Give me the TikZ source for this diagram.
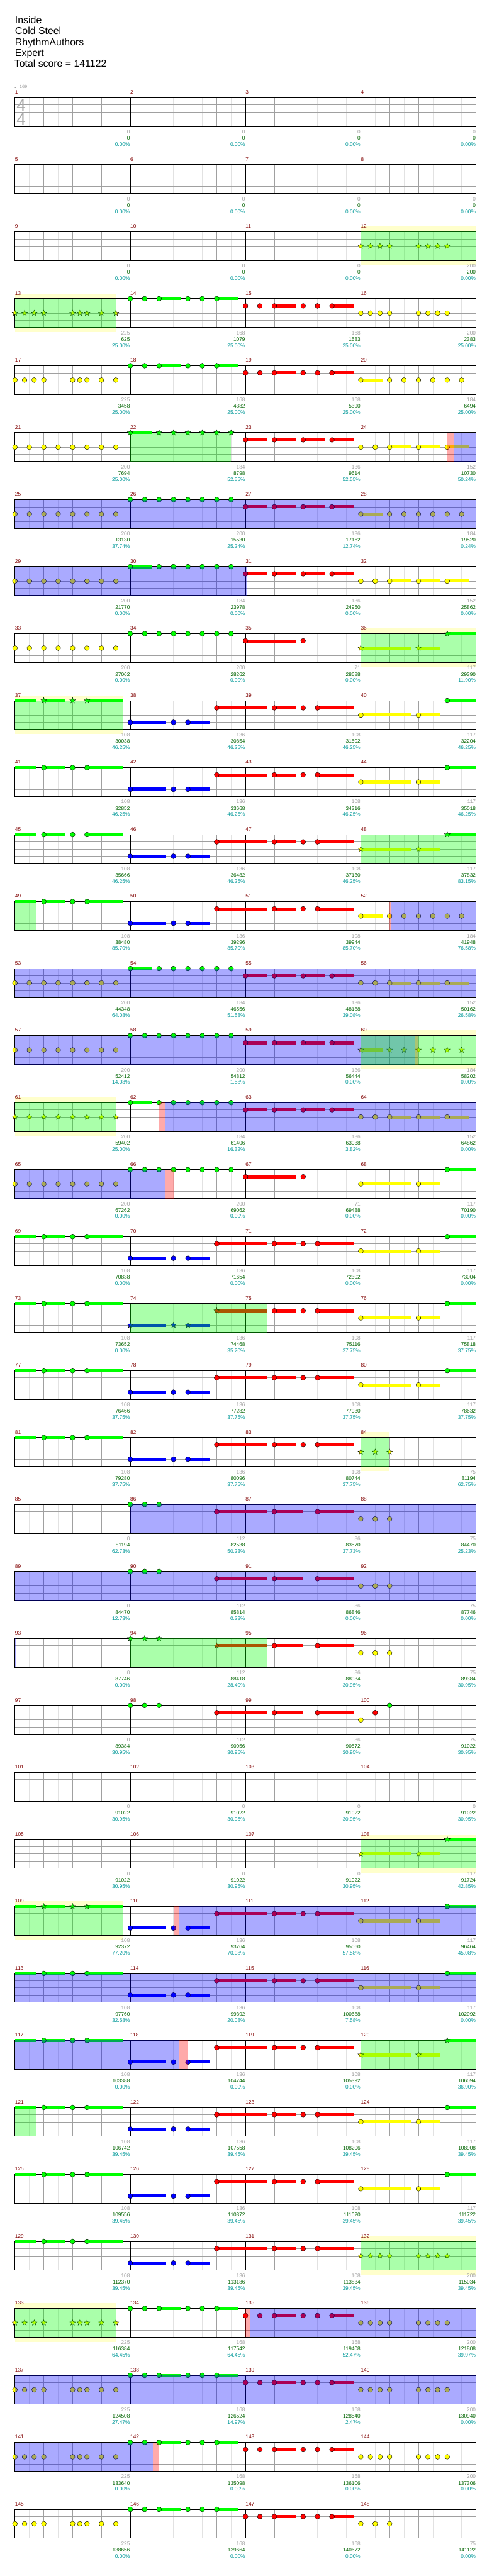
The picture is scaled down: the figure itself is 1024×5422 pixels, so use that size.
\documentclass[tikz,border=0pt]{standalone}
\usepackage{fontspec}
\setmainfont{Liberation Sans}
\newfontfamily\djv{DejaVu Sans}
\usetikzlibrary{shapes.geometric}
\definecolor{gG}{HTML}{00FF00}
\definecolor{gR}{HTML}{FF0000}
\definecolor{gY}{HTML}{FFFF00}
\definecolor{gB}{HTML}{0000FF}
\definecolor{bandc}{HTML}{FFFFCC}
\definecolor{gridd}{HTML}{A0A0A0}
\definecolor{gridl}{HTML}{E2E2E2}
\definecolor{mnumc}{HTML}{800000}
\definecolor{ngrey}{HTML}{A0A0A0}
\definecolor{ngreen}{HTML}{006400}
\definecolor{nteal}{HTML}{009999}
\definecolor{tsig}{HTML}{AAAAAA}
\newcommand\bx[1]{31.5+60.625*(#1)}
\newcommand\nt[3]{\filldraw[fill=#3,draw=black,line width=0.4pt] ({\bx{#1}},{15.175*(#2)}) circle[radius=5.2];}
\newcommand\st[3]{\node[starnote,fill=#3] at ({\bx{#1}},{15.175*(#2)}) {};}
\newcommand\sus[4]{\fill[#4] ({\bx{#1}},{15.175*(#3)-3.3}) rectangle ({\bx{#2}},{15.175*(#3)+3.3});}
\newcommand\ovB[2]{\fill[gB,fill opacity=0.3333] ({\bx{#1}},0) rectangle ({\bx{#2}},60.7);}
\newcommand\ovG[2]{\fill[gG,fill opacity=0.3333] ({\bx{#1}},0) rectangle ({\bx{#2}},60.7);}
\newcommand\ovR[2]{\fill[gR,fill opacity=0.3333] ({\bx{#1}},0) rectangle ({\bx{#2}},60.7);}
\newcommand\band[2]{\fill[bandc] ({\bx{#1}},-11) rectangle ({\bx{#2}},70.7);}
\newcommand\staff{%
  \fill[white] (31.5,0) rectangle (1001.5,60.7);
  \foreach \k in {1,3,...,31}{\draw[gridl,line width=0.6pt] ({31.5+30.3125*\k},0) -- ({31.5+30.3125*\k},60.7);}
  \foreach \k in {2,4,6,10,12,14,18,20,22,26,28,30}{\draw[gridd,line width=0.6pt] ({31.5+30.3125*\k},0) -- ({31.5+30.3125*\k},60.7);}
  \foreach \k in {1,2,3}{\draw[gridd,line width=0.75pt] (31.5,{15.175*\k}) -- (1001.5,{15.175*\k});}
  \foreach \k in {1,2,3}{\draw[black,line width=0.6pt] ({31.5+242.5*\k},0) -- ({31.5+242.5*\k},60.7);}
  \draw[black,line width=1.1pt] (31.5,0) rectangle (1001.5,60.7);
  \foreach \k in {0,1,2,3}{\pgfmathtruncatemacro\mm{4*(\rr-1)+\k+1}\node[mnumst] at ({31.5+242.5*\k},-7.5) {\mm};}
}
\newcommand\scr[4]{%
  \node[sgrey] at ({31.5+242.5*(#1+1)-0.5},76) {#2};
  \node[sgreen] at ({31.5+242.5*(#1+1)-0.5},89.3) {#3};
  \node[steal] at ({31.5+242.5*(#1+1)-0.5},102.3) {#4\%};}
\newcommand\RowBegin[1]{\begin{scope}[shift={(0,{205.7+141*(#1-1)})}]\def\rr{#1}}
\newcommand\RowEnd{\end{scope}}
% B-section patterns
\newcommand\qA[1]{\foreach \bb in {0,0.3333,0.6667,1,2,2.25,2.5,3,3.5}{#1{\bb}{2}{gY}}}
\newcommand\qB{\sus{5}{5.75}{0}{gG}\sus{7}{7.75}{0}{gG}\foreach \bb in {4,4.5,5,6,6.5,7}{\nt{\bb}{0}{gG}}}
\newcommand\qC{\sus{9}{9.75}{1}{gR}\sus{11}{11.75}{1}{gR}\foreach \bb in {8,8.5,9,10,10.5,11}{\nt{\bb}{1}{gR}}}
\newcommand\qD[1]{\foreach \bb in {12,12.3333,12.6667,13,14,14.3333,14.6667,15}{#1{\bb}{2}{gY}}}
% C-section patterns
\newcommand\cA[1]{\foreach \bb in {0,0.5,1,1.5,2,2.5,3,3.5}{#1{\bb}{2}{gY}}}
\newcommand\cBa{\foreach \bb in {4,4.5,5,5.5,6,6.5,7,7.5}{\nt{\bb}{0}{gG}}}
\newcommand\cBb[1]{\sus{4}{4.75}{0}{gG}\foreach \bb in {4,5,5.5,6,6.5,7,7.5}{#1{\bb}{0}{gG}}}
\newcommand\cC{\foreach \bb in {8,9,10,11}{\sus{\bb}{\bb+0.75}{1}{gR}\nt{\bb}{1}{gR}}}
\newcommand\cDa{\sus{13}{13.75}{2}{gY}\sus{14}{14.75}{2}{gY}\sus{15}{15.75}{2}{gY}\foreach \bb in {12,12.5,13,14,15}{\nt{\bb}{2}{gY}}}
\newcommand\cDb[1]{\sus{12}{12.75}{2}{gY}\foreach \bb in {12,13,13.5,14,14.5,15,15.5}{#1{\bb}{2}{gY}}}
\newcommand\eC{\sus{8}{9.75}{1}{gR}\nt{8}{1}{gR}\nt{10}{1}{gR}}
% A-section patterns
\newcommand\pA[1]{\sus{0}{0.75}{0}{gG}\sus{1}{1.75}{0}{gG}\sus{2.5}{3.75}{0}{gG}\foreach \bb in {1,2,2.5}{#1{\bb}{0}{gG}}}
\newcommand\pB[1]{\sus{4}{5.25}{3}{gB}\sus{6}{6.75}{3}{gB}\foreach \bb in {4,5.5,6}{#1{\bb}{3}{gB}}}
\newcommand\pC[1]{\sus{7}{8.75}{1}{gR}#1{7}{1}{gR}}
\newcommand\pD{\sus{9}{9.75}{1}{gR}\sus{10.5}{11.75}{1}{gR}\foreach \bb in {9,10,10.5}{\nt{\bb}{1}{gR}}}
\newcommand\pE[1]{\sus{12}{13.75}{2}{gY}\sus{14}{14.75}{2}{gY}\sus{15}{16}{0}{gG}#1{12}{2}{gY}#1{14}{2}{gY}#1{15}{0}{gG}}
\newcommand\rowA{\pA{\nt}\pB{\nt}\pC{\nt}\pD\pE{\nt}}
% D-section patterns
\newcommand\dA[1]{\foreach \bb in {4,4.5,5}{#1{\bb}{0}{gG}}}
\newcommand\dC{\sus{9}{10}{1}{gR}\sus{10.5}{11.75}{1}{gR}\nt{9}{1}{gR}\nt{10.5}{1}{gR}}
\newcommand\dD{\foreach \bb in {12,12.5,13}{\nt{\bb}{2}{gY}}}
\begin{document}
\begin{tikzpicture}[x=0.75pt,y=-0.75pt,
  starnote/.style={star,star points=5,star point ratio=2.4,minimum size=9.5pt,inner sep=0pt,draw=black,line width=0.35pt},
  mnumst/.style={anchor=base west,inner sep=0pt,text=mnumc,font=\fontsize{8.25}{9}\selectfont},
  sgrey/.style={anchor=base east,inner sep=0pt,text=ngrey,font=\fontsize{8.25}{9}\selectfont},
  sgreen/.style={anchor=base east,inner sep=0pt,text=ngreen,font=\fontsize{8.25}{9}\selectfont},
  steal/.style={anchor=base east,inner sep=0pt,text=nteal,font=\fontsize{8.25}{9}\selectfont},
  titlest/.style={anchor=base west,inner sep=0pt,font=\fontsize{15.75}{16}\selectfont}]
\useasboundingbox (0,0) rectangle (1024,5422);
\fill[white] (0,0) rectangle (1024,5422);
\node[titlest] (t1) at (31.5,49.5) {Inside};
\node[titlest] (t2) at (31.5,72.5) {Cold Steel};
\node[titlest] (t3) at (31.5,95.5) {RhythmAuthors};
\node[titlest] (t4) at (31.5,118.5) {Expert};
\node[titlest] (t5) at (30,141.5) {Total score = 141122};
\node[anchor=base west,inner sep=0pt,text=ngrey,font=\fontsize{7.5}{8}\selectfont] (tempo) at (30,185.5) {{\djv ♩}=169};
% row 1
\RowBegin{1}\staff
\node[anchor=base west,inner sep=0pt,text=tsig,font=\fontsize{26}{26}\selectfont] (ts1) at (34.5,27.3) {4};
\node[anchor=base west,inner sep=0pt,text=tsig,font=\fontsize{26}{26}\selectfont] (ts2) at (34.5,57.3) {4};
\scr{0}{0}{0}{0.00}\scr{1}{0}{0}{0.00}\scr{2}{0}{0}{0.00}\scr{3}{0}{0}{0.00}\RowEnd
% row 2
\RowBegin{2}\staff
\scr{0}{0}{0}{0.00}\scr{1}{0}{0}{0.00}\scr{2}{0}{0}{0.00}\scr{3}{0}{0}{0.00}\RowEnd
% row 3
\RowBegin{3}\band{12}{16}\staff\qD{\st}\ovG{12}{16}
\scr{0}{0}{0}{0.00}\scr{1}{0}{0}{0.00}\scr{2}{0}{0}{0.00}\scr{3}{200}{200}{0.00}\RowEnd
% row 4
\RowBegin{4}\band{0}{3.5}\staff\qA{\st}\qB\qC\qD{\nt}\ovG{0}{3.5}
\scr{0}{225}{625}{25.00}\scr{1}{168}{1079}{25.00}\scr{2}{168}{1583}{25.00}\scr{3}{200}{2383}{25.00}\RowEnd
% row 5
\RowBegin{5}\staff\qA{\nt}\qB\qC\cDb{\nt}
\scr{0}{225}{3458}{25.00}\scr{1}{168}{4382}{25.00}\scr{2}{168}{5390}{25.00}\scr{3}{184}{6494}{25.00}\RowEnd
% row 6
\RowBegin{6}\staff\cA{\nt}\sus{4}{4.75}{0}{gG}\foreach \bb in {4,5,5.5,6,6.5,7,7.5}{\st{\bb}{0}{gG}}\cC\cDa\ovG{4}{7.5}\ovR{15}{15.25}\ovB{15.25}{16}
\scr{0}{200}{7694}{25.00}\scr{1}{184}{8798}{52.55}\scr{2}{136}{9614}{52.55}\scr{3}{152}{10730}{50.24}\RowEnd
% row 7
\RowBegin{7}\staff\cA{\nt}\cBa\cC\cDb{\nt}\ovB{0}{16}
\scr{0}{200}{13130}{37.74}\scr{1}{200}{15530}{25.24}\scr{2}{136}{17162}{12.74}\scr{3}{184}{19520}{0.24}\RowEnd
% row 8
\RowBegin{8}\staff\cA{\nt}\cBb{\nt}\cC\cDa\ovB{0}{8.07}
\scr{0}{200}{21770}{0.00}\scr{1}{184}{23978}{0.00}\scr{2}{136}{24950}{0.00}\scr{3}{152}{25862}{0.00}\RowEnd
% row 9
\RowBegin{9}\band{12}{16}\staff\cA{\nt}\cBa\eC\pE{\st}\ovG{12}{16}
\scr{0}{200}{27062}{0.00}\scr{1}{200}{28262}{0.00}\scr{2}{71}{28688}{0.00}\scr{3}{117}{29390}{11.90}\RowEnd
% row 10
\RowBegin{10}\band{0}{3.75}\staff\pA{\st}\pB{\nt}\pC{\nt}\pD\pE{\nt}\ovG{0}{3.75}
\scr{0}{108}{30038}{46.25}\scr{1}{136}{30854}{46.25}\scr{2}{108}{31502}{46.25}\scr{3}{117}{32204}{46.25}\RowEnd
% row 11
\RowBegin{11}\staff\rowA
\scr{0}{108}{32852}{46.25}\scr{1}{136}{33668}{46.25}\scr{2}{108}{34316}{46.25}\scr{3}{117}{35018}{46.25}\RowEnd
% row 12
\RowBegin{12}\staff\pA{\nt}\pB{\nt}\pC{\nt}\pD\pE{\st}\ovG{12}{16}
\scr{0}{108}{35666}{46.25}\scr{1}{136}{36482}{46.25}\scr{2}{108}{37130}{46.25}\scr{3}{117}{37832}{83.15}\RowEnd
% row 13
\RowBegin{13}\staff\pA{\nt}\pB{\nt}\pC{\nt}\pD\cDb{\nt}\ovG{0}{0.73}\ovR{13}{13.05}\ovB{13.05}{16}
\scr{0}{108}{38480}{85.70}\scr{1}{136}{39296}{85.70}\scr{2}{108}{39944}{85.70}\scr{3}{184}{41948}{76.58}\RowEnd
% row 14
\RowBegin{14}\staff\cA{\nt}\cBb{\nt}\cC\cDa\ovB{0}{16}
\scr{0}{200}{44348}{64.08}\scr{1}{184}{46556}{51.58}\scr{2}{136}{48188}{39.08}\scr{3}{152}{50162}{26.58}\RowEnd
% row 15
\RowBegin{15}\band{12}{16}\staff\cA{\nt}\cBa\cC\cDb{\st}\ovB{0}{13.88}\ovR{13.88}{14}\ovG{12}{16}
\scr{0}{200}{52412}{14.08}\scr{1}{200}{54812}{1.58}\scr{2}{136}{56444}{0.00}\scr{3}{184}{58202}{0.00}\RowEnd
% row 16
\RowBegin{16}\band{0}{3.5}\staff\cA{\st}\cBb{\nt}\cC\cDa\ovG{0}{3.5}\ovR{5}{5.21}\ovB{5.21}{16}
\scr{0}{200}{59402}{25.00}\scr{1}{184}{61406}{16.32}\scr{2}{136}{63038}{3.82}\scr{3}{152}{64862}{0.00}\RowEnd
% row 17
\RowBegin{17}\staff\cA{\nt}\cBa\eC\pE{\nt}\ovB{0}{5.21}\ovR{5.21}{5.5}
\scr{0}{200}{67262}{0.00}\scr{1}{200}{69062}{0.00}\scr{2}{71}{69488}{0.00}\scr{3}{117}{70190}{0.00}\RowEnd
% row 18
\RowBegin{18}\staff\rowA
\scr{0}{108}{70838}{0.00}\scr{1}{136}{71654}{0.00}\scr{2}{108}{72302}{0.00}\scr{3}{117}{73004}{0.00}\RowEnd
% row 19
\RowBegin{19}\staff\pA{\nt}\pB{\st}\pC{\st}\pD\pE{\nt}\ovG{4}{8.75}
\scr{0}{108}{73652}{0.00}\scr{1}{136}{74468}{35.20}\scr{2}{108}{75116}{37.75}\scr{3}{117}{75818}{37.75}\RowEnd
% row 20
\RowBegin{20}\staff\rowA
\scr{0}{108}{76466}{37.75}\scr{1}{136}{77282}{37.75}\scr{2}{108}{77930}{37.75}\scr{3}{117}{78632}{37.75}\RowEnd
% row 21
\RowBegin{21}\band{12}{13}\staff\pA{\nt}\pB{\nt}\pC{\nt}\pD\foreach \bb in {12,12.5,13}{\st{\bb}{2}{gY}}\ovG{12}{13}
\scr{0}{108}{79280}{37.75}\scr{1}{136}{80096}{37.75}\scr{2}{108}{80744}{37.75}\scr{3}{75}{81194}{62.75}\RowEnd
% row 22
\RowBegin{22}\staff\dA{\nt}\pC{\nt}\dC\dD\ovB{4}{16}
\scr{0}{0}{81194}{62.73}\scr{1}{112}{82538}{50.23}\scr{2}{86}{83570}{37.73}\scr{3}{75}{84470}{25.23}\RowEnd
% row 23
\RowBegin{23}\staff\dA{\nt}\pC{\nt}\dC\dD\ovB{0}{16}
\scr{0}{0}{84470}{12.73}\scr{1}{112}{85814}{0.23}\scr{2}{86}{86846}{0.00}\scr{3}{75}{87746}{0.00}\RowEnd
% row 24
\RowBegin{24}\staff\dA{\st}\pC{\st}\dC\dD\ovG{4}{8.75}\ovB{0}{0.055}
\scr{0}{0}{87746}{0.00}\scr{1}{112}{88418}{28.40}\scr{2}{86}{88934}{30.95}\scr{3}{75}{89384}{30.95}\RowEnd
% row 25
\RowBegin{25}\staff\dA{\nt}\pC{\nt}\dC\nt{12}{2}{gY}\nt{12.5}{1}{gR}\nt{13}{0}{gG}
\scr{0}{0}{89384}{30.95}\scr{1}{112}{90056}{30.95}\scr{2}{86}{90572}{30.95}\scr{3}{75}{91022}{30.95}\RowEnd
% row 26
\RowBegin{26}\staff
\scr{0}{0}{91022}{30.95}\scr{1}{0}{91022}{30.95}\scr{2}{0}{91022}{30.95}\scr{3}{0}{91022}{30.95}\RowEnd
% row 27
\RowBegin{27}\band{12}{16}\staff\pE{\st}\ovG{12}{16}
\scr{0}{0}{91022}{30.95}\scr{1}{0}{91022}{30.95}\scr{2}{0}{91022}{30.95}\scr{3}{117}{91724}{42.85}\RowEnd
% row 28
\RowBegin{28}\band{0}{3.75}\staff\pA{\st}\pB{\nt}\pC{\nt}\pD\pE{\nt}\ovG{0}{3.75}\ovR{5.5}{5.71}\ovB{5.71}{16}
\scr{0}{108}{92372}{77.20}\scr{1}{136}{93764}{70.08}\scr{2}{108}{95060}{57.58}\scr{3}{117}{96464}{45.08}\RowEnd
% row 29
\RowBegin{29}\staff\rowA\ovB{0}{16}
\scr{0}{108}{97760}{32.58}\scr{1}{136}{99392}{20.08}\scr{2}{108}{100688}{7.58}\scr{3}{117}{102092}{0.00}\RowEnd
% row 30
\RowBegin{30}\staff\pA{\nt}\pB{\nt}\pC{\nt}\pD\pE{\st}\ovB{0}{5.71}\ovR{5.71}{6}\ovG{12}{16}
\scr{0}{108}{103388}{0.00}\scr{1}{136}{104744}{0.00}\scr{2}{108}{105392}{0.00}\scr{3}{117}{106094}{36.90}\RowEnd
% row 31
\RowBegin{31}\staff\rowA\ovG{0}{0.73}
\scr{0}{108}{106742}{39.45}\scr{1}{136}{107558}{39.45}\scr{2}{108}{108206}{39.45}\scr{3}{117}{108908}{39.45}\RowEnd
% row 32
\RowBegin{32}\staff\rowA
\scr{0}{108}{109556}{39.45}\scr{1}{136}{110372}{39.45}\scr{2}{108}{111020}{39.45}\scr{3}{117}{111722}{39.45}\RowEnd
% row 33
\RowBegin{33}\band{12}{16}\staff\pA{\nt}\pB{\nt}\pC{\nt}\pD\qD{\st}\ovG{12}{16}
\scr{0}{108}{112370}{39.45}\scr{1}{136}{113186}{39.45}\scr{2}{108}{113834}{39.45}\scr{3}{200}{115034}{39.45}\RowEnd
% row 34
\RowBegin{34}\band{0}{3.5}\staff\qA{\st}\qB\qC\qD{\nt}\ovG{0}{3.5}\ovR{8}{8.15}\ovB{8.15}{16}
\scr{0}{225}{116384}{64.45}\scr{1}{168}{117542}{64.45}\scr{2}{168}{119408}{52.47}\scr{3}{200}{121808}{39.97}\RowEnd
% row 35
\RowBegin{35}\staff\qA{\nt}\qB\qC\qD{\nt}\ovB{0}{16}
\scr{0}{225}{124508}{27.47}\scr{1}{168}{126524}{14.97}\scr{2}{168}{128540}{2.47}\scr{3}{200}{130940}{0.00}\RowEnd
% row 36
\RowBegin{36}\staff\qA{\nt}\qB\qC\qD{\nt}\ovB{0}{4.78}\ovR{4.78}{5}
\scr{0}{225}{133640}{0.00}\scr{1}{168}{135098}{0.00}\scr{2}{168}{136106}{0.00}\scr{3}{200}{137306}{0.00}\RowEnd
% row 37
\RowBegin{37}\staff\qA{\nt}\qB\qC\dD
\scr{0}{225}{138656}{0.00}\scr{1}{168}{139664}{0.00}\scr{2}{168}{140672}{0.00}\scr{3}{75}{141122}{0.00}\RowEnd
\end{tikzpicture}
\end{document}
